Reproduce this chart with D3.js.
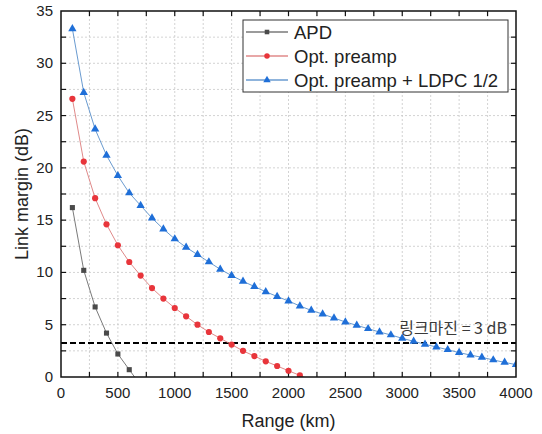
<!DOCTYPE html>
<html lang="en">
<head>
<meta charset="UTF-8">
<title>Link margin vs range</title>
<script src="https://d3js.org/d3.v7.min.js"></script>
<style>
    body { margin: 0; background: #fff; }
    svg { display: block; }
    text { font-family: "Liberation Sans", Arial, sans-serif; fill: #222; }
    .grid line { stroke: #c8c8c8; stroke-dasharray: 2,2; stroke-width: 0.8; }
</style>
</head>
<body>
<script>
    const width = 542;
    const height = 434;

    // data
    const apdRange = [100, 200, 300, 400, 500, 600, 700];
    const apdMargin = [16.2, 10.2, 6.7, 4.2, 2.2, 0.7, -0.8];

    const preRange = [100, 200, 300, 400, 500, 600, 700, 800, 900, 1000, 1100, 1200,
                      1300, 1400, 1500, 1600, 1700, 1800, 1900, 2000, 2100, 2200];
    const preMargin = [26.6, 20.6, 17.1, 14.6, 12.6, 11.0, 9.7, 8.5, 7.5, 6.6, 5.8, 5.0,
                       4.3, 3.7, 3.1, 2.5, 2.0, 1.5, 1.05, 0.6, 0.15, -0.3];

    const ldpcRange = d3.range(100, 4001, 100);
    const ldpcMargin = [33.3, 27.2, 23.7, 21.2, 19.25, 17.6, 16.4, 15.2, 14.15, 13.2,
                        12.4, 11.7, 11.0, 10.3, 9.7, 9.15, 8.65, 8.15, 7.7, 7.27,
                        6.79, 6.37, 6.02, 5.64, 5.26, 4.94, 4.62, 4.30, 4.02, 3.7,
                        3.41, 3.13, 2.87, 2.61, 2.33, 2.1, 1.88, 1.63, 1.4, 1.18];

    const seriesNames = ["APD", "Opt. preamp", "Opt. preamp + LDPC 1/2"];
    const threshold = 3.25;
    const thresholdLabel = "링크마진 = 3 dB";
    const xTicks = [0, 500, 1000, 1500, 2000, 2500, 3000, 3500, 4000];
    const yTicks = [0, 5, 10, 15, 20, 25, 30, 35];

    const margin = {left: 61, right: 26, top: 11, bottom: 57};
    const x = d3.scaleLinear().domain([0, 4000]).range([margin.left, width - margin.right]);
    const y = d3.scaleLinear().domain([0, 35]).range([height - margin.bottom, margin.top]);

    const svg = d3.select("body").append("svg")
        .attr("width", width).attr("height", height);

    svg.append("clipPath").attr("id", "plotclip")
        .append("rect")
        .attr("x", x(0)).attr("y", y(35))
        .attr("width", x(4000) - x(0)).attr("height", y(0) - y(35));

    // grid every 250 km / 2.5 dB
    const gx = d3.range(250, 4000, 250);
    const gy = d3.range(2.5, 35, 2.5);
    const grid = svg.append("g").attr("class", "grid");
    grid.selectAll(".gv").data(gx).enter().append("line")
        .attr("x1", d => x(d)).attr("x2", d => x(d))
        .attr("y1", y(0)).attr("y2", y(35));
    grid.selectAll(".gh").data(gy).enter().append("line")
        .attr("y1", d => y(d)).attr("y2", d => y(d))
        .attr("x1", x(0)).attr("x2", x(4000));

    // inward ticks on all four sides
    const ticks = svg.append("g").attr("stroke", "#111").attr("stroke-width", 1.2);
    gx.forEach(v => {
        ticks.append("line").attr("x1", x(v)).attr("x2", x(v)).attr("y1", y(0)).attr("y2", y(0) - 5);
        ticks.append("line").attr("x1", x(v)).attr("x2", x(v)).attr("y1", y(35)).attr("y2", y(35) + 5);
    });
    gy.forEach(v => {
        ticks.append("line").attr("y1", y(v)).attr("y2", y(v)).attr("x1", x(0)).attr("x2", x(0) + 5);
        ticks.append("line").attr("y1", y(v)).attr("y2", y(v)).attr("x1", x(4000)).attr("x2", x(4000) - 5);
    });

    // tick labels
    svg.append("g").selectAll("text").data(xTicks).enter().append("text")
        .attr("x", d => x(d)).attr("y", y(0) + 21)
        .attr("text-anchor", "middle").style("font-size", "15px")
        .text(d => d);
    svg.append("g").selectAll("text").data(yTicks).enter().append("text")
        .attr("x", x(0) - 8).attr("y", d => y(d) + 5)
        .attr("text-anchor", "end").style("font-size", "15px")
        .text(d => d);

    // axis titles
    svg.append("text")
        .attr("x", (x(0) + x(4000)) / 2).attr("y", 427)
        .attr("text-anchor", "middle").style("font-size", "18px")
        .text("Range (km)");
    svg.append("text")
        .attr("transform", `translate(28, ${(y(0) + y(35)) / 2}) rotate(-90)`)
        .attr("text-anchor", "middle").style("font-size", "18px")
        .text("Link margin (dB)");

    // threshold
    svg.append("line")
        .attr("x1", x(0)).attr("x2", x(4000))
        .attr("y1", y(threshold)).attr("y2", y(threshold))
        .attr("stroke", "#000").attr("stroke-width", 2)
        .attr("stroke-dasharray", "6,3");
    svg.append("text")
        .attr("x", x(4000) - 9).attr("y", y(threshold) - 9)
        .attr("text-anchor", "end").style("font-size", "16px")
        .style("font-family", "'Noto Sans CJK KR', 'Liberation Sans', sans-serif")
        .style("fill", "#3a3a3a")
        .text(thresholdLabel);

    const series = [
        {name: seriesNames[0], xs: apdRange, ys: apdMargin, line: "#7a7a7a", mark: "#4a4a4a", shape: d3.symbolSquare, size: 26},
        {name: seriesNames[1], xs: preRange, ys: preMargin, line: "#e08a8a", mark: "#e8353b", shape: d3.symbolCircle, size: 30},
        {name: seriesNames[2], xs: ldpcRange, ys: ldpcMargin, line: "#6a9bd0", mark: "#1f6fd8", shape: d3.symbolTriangle, size: 30}
    ];

    const lineGen = d3.line().x(d => x(d[0])).y(d => y(d[1]));
    const plot = svg.append("g").attr("clip-path", "url(#plotclip)");

    series.forEach(s => {
        const pts = s.xs.map((v, i) => [v, s.ys[i]]);
        plot.append("path").datum(pts)
            .attr("d", lineGen)
            .attr("fill", "none").attr("stroke", s.line).attr("stroke-width", 1);
        plot.selectAll(null).data(pts.filter(p => p[1] >= 0)).enter().append("path")
            .attr("d", d3.symbol().type(s.shape).size(s.size))
            .attr("transform", d => `translate(${x(d[0])},${y(d[1])})`)
            .attr("fill", s.mark);
    });

    // frame
    svg.append("rect")
        .attr("x", x(0)).attr("y", y(35))
        .attr("width", x(4000) - x(0)).attr("height", y(0) - y(35))
        .attr("fill", "none").attr("stroke", "#111").attr("stroke-width", 1.5);

    // legend
    const lg = svg.append("g").attr("transform", "translate(243,20)");
    lg.append("rect").attr("width", 265).attr("height", 72)
        .attr("fill", "#fff").attr("stroke", "#333").attr("stroke-width", 1);
    series.forEach((s, i) => {
        const cy = 12 + i * 24;
        lg.append("line").attr("x1", 3).attr("x2", 45).attr("y1", cy).attr("y2", cy)
            .attr("stroke", s.line).attr("stroke-width", 1.5);
        lg.append("path").attr("d", d3.symbol().type(s.shape).size(s.size * 0.8))
            .attr("transform", `translate(24,${cy})`).attr("fill", s.mark);
        lg.append("text").attr("x", 51).attr("y", cy + 6.5)
            .style("font-size", "18.5px").text(s.name);
    });
</script>
</body>
</html>
